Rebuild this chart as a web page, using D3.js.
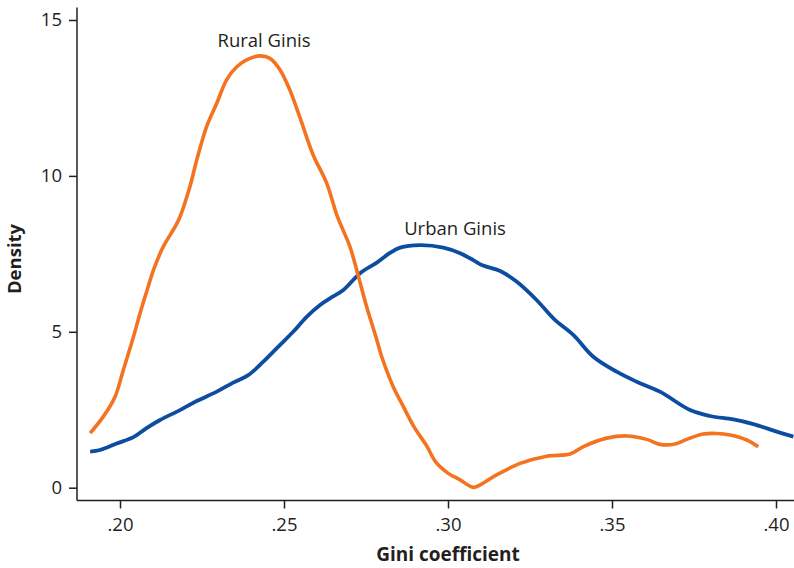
<!DOCTYPE html>
<html>
<head>
<meta charset="utf-8">
<script src="https://cdn.jsdelivr.net/npm/d3@7"></script>
<style>
  html, body { margin: 0; padding: 0; background: #fff; }
  svg { display: block; }
  text { font-family: "Open Sans", "Noto Sans", sans-serif; fill: #231f20; }
</style>
</head>
<body>
<script>
// ---- Data ----
const ruralX = [0.1909,0.1949,0.1985,0.2010,0.2041,0.2061,0.2086,0.2102,0.2132,0.2168,0.2183,0.2213,0.2234,0.2264,0.2295,0.2325,0.2356,0.2386,0.2427,0.2457,0.2488,0.2518,0.2549,0.2589,0.2630,0.2663,0.2701,0.2727,0.2752,0.2783,0.2798,0.2833,0.2864,0.2896,0.2935,0.2963,0.3001,0.3037,0.3077,0.3098,0.3148,0.3220,0.3301,0.3372,0.3413,0.3484,0.3545,0.3606,0.3646,0.3692,0.3728,0.3778,0.3819,0.3860,0.3911,0.3946];
const ruralY = [1.75,2.28,2.92,3.77,4.84,5.59,6.45,6.98,7.73,8.37,8.69,9.65,10.51,11.58,12.33,13.08,13.50,13.72,13.85,13.77,13.40,12.75,11.86,10.67,9.77,8.69,7.73,6.77,5.80,4.74,4.20,3.24,2.60,1.96,1.34,0.82,0.46,0.25,0.01,0.09,0.41,0.78,1.01,1.08,1.32,1.59,1.66,1.55,1.39,1.40,1.55,1.72,1.74,1.69,1.53,1.31];
const urbanX = [0.1909,0.1939,0.1990,0.2041,0.2081,0.2122,0.2183,0.2234,0.2295,0.2345,0.2391,0.2437,0.2488,0.2528,0.2569,0.2610,0.2640,0.2681,0.2732,0.2783,0.2823,0.2854,0.2915,0.2986,0.3037,0.3077,0.3103,0.3159,0.3209,0.3270,0.3326,0.3382,0.3443,0.3514,0.3575,0.3646,0.3738,0.3799,0.3870,0.3931,0.4002,0.4053];
const urbanY = [1.16,1.21,1.42,1.62,1.91,2.17,2.49,2.78,3.08,3.37,3.61,4.04,4.58,5.00,5.48,5.86,6.07,6.34,6.88,7.22,7.53,7.70,7.78,7.70,7.52,7.30,7.14,6.95,6.61,6.02,5.38,4.90,4.20,3.72,3.40,3.08,2.49,2.30,2.19,2.04,1.80,1.64];
const xTicks = [0.20, 0.25, 0.30, 0.35, 0.40];
const xTickLabels = [".20", ".25", ".30", ".35", ".40"];
const yTicks = [0, 5, 10, 15];
const seriesNames = ["Rural Ginis", "Urban Ginis"];
const seriesColors = ["#f47321", "#0c4da2"];

// ---- Layout ----
const W = 794, H = 568;
const svg = d3.select("body").append("svg").attr("width", W).attr("height", H);

const x = d3.scaleLinear().domain([0.20, 0.40]).range([120, 776]);
const y = d3.scaleLinear().domain([0, 15]).range([487.7, 20]);

const axisColor = "#231f20";
const xMin = x.invert(77), xMax = x.invert(794);

// Y axis
const gy = svg.append("g").attr("transform", "translate(77,0)")
  .call(d3.axisLeft(y).tickValues(yTicks).tickSize(8).tickSizeOuter(0).tickPadding(6));
gy.select(".domain").remove();
gy.append("line").attr("x1", 0).attr("x2", 0)
  .attr("y1", y(15.4)).attr("y2", y(-0.41))
  .attr("stroke", axisColor).attr("stroke-width", 1.5);
gy.selectAll(".tick line").attr("stroke", axisColor).attr("stroke-width", 1.5);
gy.selectAll(".tick text").attr("font-size", 18.5).attr("fill", axisColor)
  .attr("font-family", "'Open Sans', sans-serif").attr("dx", -1);

// X axis
const gx = svg.append("g").attr("transform", `translate(0,${y(-0.41)})`)
  .call(d3.axisBottom(x).tickValues(xTicks).tickFormat((d, i) => xTickLabels[i])
    .tickSize(8).tickSizeOuter(0).tickPadding(9));
gx.select(".domain").remove();
gx.append("line").attr("x1", x(xMin)).attr("x2", x(xMax))
  .attr("y1", 0).attr("y2", 0)
  .attr("stroke", axisColor).attr("stroke-width", 1.5);
gx.selectAll(".tick line").attr("stroke", axisColor).attr("stroke-width", 1.5);
gx.selectAll(".tick text").attr("font-size", 18.5).attr("fill", axisColor)
  .attr("font-family", "'Open Sans', sans-serif");

// Axis titles
svg.append("text").attr("x", 448).attr("y", 561).attr("text-anchor", "middle")
  .attr("font-size", 19).attr("font-weight", "bold").text("Gini coefficient");
svg.append("text").attr("transform", "translate(21,259) rotate(-90)")
  .attr("text-anchor", "middle").attr("font-size", 18.5).attr("font-weight", "bold")
  .text("Density");

// Lines
const line = d3.line().x(d => x(d[0])).y(d => y(d[1])).curve(d3.curveCatmullRom.alpha(0.5));
const rural = ruralX.map((v, i) => [v, ruralY[i]]);
const urban = urbanX.map((v, i) => [v, urbanY[i]]);

svg.append("path").datum(urban).attr("d", line).attr("fill", "none")
  .attr("stroke", seriesColors[1]).attr("stroke-width", 3.8)
  .attr("stroke-linejoin", "round");
svg.append("path").datum(rural).attr("d", line).attr("fill", "none")
  .attr("stroke", seriesColors[0]).attr("stroke-width", 3.6)
  .attr("stroke-linejoin", "round");

// Labels
svg.append("text").attr("x", 264).attr("y", 47).attr("text-anchor", "middle")
  .attr("font-size", 18.5).text(seriesNames[0]);
svg.append("text").attr("x", 455).attr("y", 235).attr("text-anchor", "middle")
  .attr("font-size", 18.5).text(seriesNames[1]);
</script>
</body>
</html>
